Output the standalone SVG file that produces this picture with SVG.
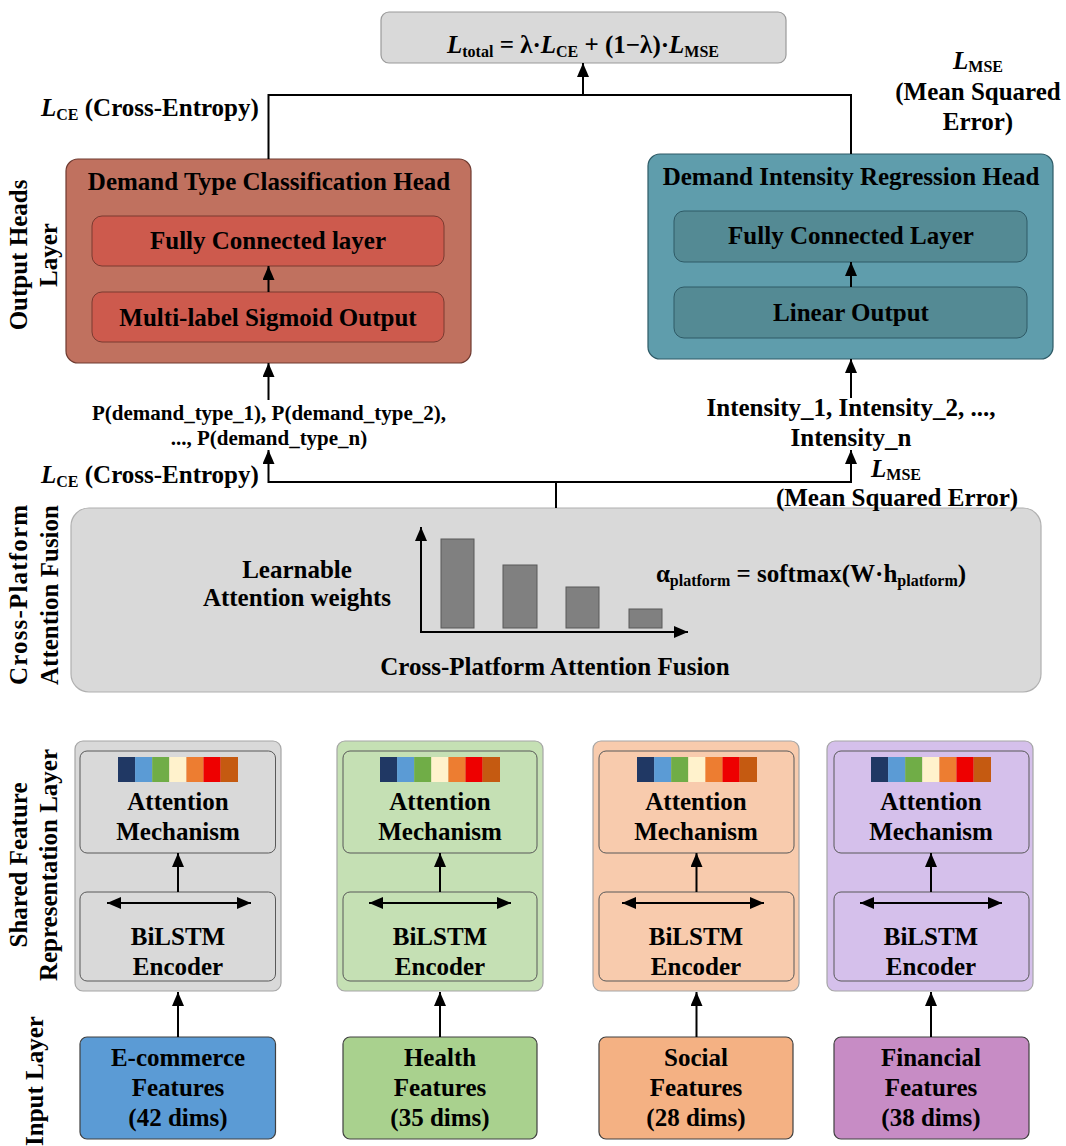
<svg xmlns="http://www.w3.org/2000/svg" width="1066" height="1146" viewBox="0 0 1066 1146">
<style>
text{font-family:"Liberation Serif","Times New Roman",serif;font-weight:bold;fill:#000;}
.t24{font-size:25px;}
.t21{font-size:21px;}
.mid{text-anchor:middle;}
.ln{stroke:#000;stroke-width:2;fill:none;}
.sub{font-size:16px;}
.it{font-style:italic;}
.panel{stroke:#a6a6a6;stroke-width:1.2;}
.inner{stroke:#595959;stroke-width:1;}
.inbox{stroke:#404040;stroke-width:1.2;}
.bar{fill:#808080;stroke:#595959;stroke-width:1;}
</style>
<defs>
<marker id="ah" markerUnits="userSpaceOnUse" markerWidth="14" markerHeight="12" refX="14" refY="6" orient="auto">
<path d="M0,0 L14,6 L0,12 z" fill="#000"/>
</marker>
<marker id="ahs" markerUnits="userSpaceOnUse" markerWidth="14" markerHeight="12" refX="0" refY="6" orient="auto">
<path d="M14,0 L0,6 L14,12 z" fill="#000"/>
</marker>
</defs>
<rect width="1066" height="1146" fill="#fff"/>

<!-- Layer labels -->
<g id="layer-labels" class="t24">
<text class="t24 mid" transform="translate(27,255) rotate(-90)">Output Heads</text>
<text class="t24 mid" transform="translate(57,255) rotate(-90)">Layer</text>
<text class="t24 mid" transform="translate(27,595) rotate(-90)" textLength="180" lengthAdjust="spacing">Cross-Platform</text>
<text class="t24 mid" transform="translate(58,595) rotate(-90)" textLength="180" lengthAdjust="spacing">Attention Fusion</text>
<text class="t24 mid" transform="translate(27,865) rotate(-90)">Shared Feature</text>
<text class="t24 mid" transform="translate(57,865) rotate(-90)">Representation Layer</text>
<text class="t24 mid" transform="translate(43,1081) rotate(-90)">Input Layer</text>
</g>

<!-- Total loss -->
<g id="total-loss">
<rect x="381" y="12" width="405" height="51" rx="8" fill="#d9d9d9" stroke="#9a9a9a" stroke-width="1.2"/>
<text class="t24 mid" x="583" y="53"><tspan class="it">L</tspan><tspan class="sub" dy="4">total</tspan><tspan dy="-4"> = λ·</tspan><tspan class="it">L</tspan><tspan class="sub" dy="4">CE</tspan><tspan dy="-4"> + (1−λ)·</tspan><tspan class="it">L</tspan><tspan class="sub" dy="4">MSE</tspan></text>
</g>

<!-- Classification head -->
<g id="classification-head">
<rect x="66" y="159" width="405" height="204" rx="12" fill="#c0715f" stroke="#6e3a30" stroke-width="1.2"/>
<text class="t24 mid" x="269" y="190">Demand Type Classification Head</text>
<rect x="92" y="216" width="352" height="50" rx="10" fill="#cd5a4d" stroke="#7a3a30" stroke-width="1"/>
<text class="t24 mid" x="268" y="249">Fully Connected layer</text>
<rect x="92" y="292" width="352" height="50" rx="10" fill="#cd5a4d" stroke="#7a3a30" stroke-width="1"/>
<text class="t24 mid" x="268" y="326">Multi-label Sigmoid Output</text>
</g>

<!-- Regression head -->
<g id="regression-head">
<rect x="648" y="154" width="405" height="205" rx="12" fill="#5f9dac" stroke="#2e5a66" stroke-width="1.2"/>
<text class="t24 mid" x="851" y="185">Demand Intensity Regression Head</text>
<rect x="674" y="211" width="353" height="51" rx="10" fill="#548a94" stroke="#2e5a66" stroke-width="1"/>
<text class="t24 mid" x="851" y="244">Fully Connected Layer</text>
<rect x="674" y="287" width="353" height="51" rx="10" fill="#548a94" stroke="#2e5a66" stroke-width="1"/>
<text class="t24 mid" x="851" y="321">Linear Output</text>
</g>

<!-- Fusion -->
<g id="fusion">
<rect x="71" y="508" width="970" height="184" rx="18" fill="#d9d9d9" stroke="#b0b0b0" stroke-width="1.2"/>
<text class="t24 mid" x="297" y="578">Learnable</text>
<text class="t24 mid" x="297" y="606">Attention weights</text>
<rect class="bar" x="441" y="539" width="33" height="89"/>
<rect class="bar" x="503" y="565" width="34" height="63"/>
<rect class="bar" x="566" y="587" width="33" height="41"/>
<rect class="bar" x="629" y="609" width="33" height="19"/>
<line class="ln" x1="421" y1="632" x2="421" y2="527" marker-end="url(#ah)"/>
<line class="ln" x1="420" y1="632" x2="688" y2="632" marker-end="url(#ah)"/>
<text class="t24 mid" x="811" y="582">α<tspan class="sub" dy="4">platform</tspan><tspan dy="-4"> = softmax(W·h</tspan><tspan class="sub" dy="4">platform</tspan><tspan dy="-4">)</tspan></text>
<text class="t24 mid" x="555" y="675">Cross-Platform Attention Fusion</text>
</g>

<!-- Columns -->
<g id="col-ecommerce">
<rect class="panel" x="75" y="741" width="206" height="250" rx="8" fill="#d9d9d9"/>
<rect class="inner" x="80" y="751" width="195.5" height="102" rx="7" fill="#d9d9d9"/>
<rect class="inner" x="80" y="892" width="195.5" height="89" rx="7" fill="#d9d9d9"/>
<rect class="inbox" x="80" y="1037" width="195.5" height="102" rx="7" fill="#5b9bd5"/>
<text class="t24 mid" x="178" y="810">Attention</text>
<text class="t24 mid" x="178" y="840">Mechanism</text>
<text class="t24 mid" x="178" y="945">BiLSTM</text>
<text class="t24 mid" x="178" y="975">Encoder</text>
<text class="t24 mid" x="178" y="1066">E-commerce</text>
<text class="t24 mid" x="178" y="1096">Features</text>
<text class="t24 mid" x="178" y="1126">(42 dims)</text>
</g>
<g id="col-health">
<rect class="panel" x="337" y="741" width="206" height="250" rx="8" fill="#c5e0b4"/>
<rect class="inner" x="343" y="751" width="194" height="102" rx="7" fill="#c5e0b4"/>
<rect class="inner" x="343" y="892" width="194" height="89" rx="7" fill="#c5e0b4"/>
<rect class="inbox" x="343" y="1037" width="194" height="102" rx="7" fill="#a9d18e"/>
<text class="t24 mid" x="440" y="810">Attention</text>
<text class="t24 mid" x="440" y="840">Mechanism</text>
<text class="t24 mid" x="440" y="945">BiLSTM</text>
<text class="t24 mid" x="440" y="975">Encoder</text>
<text class="t24 mid" x="440" y="1066">Health</text>
<text class="t24 mid" x="440" y="1096">Features</text>
<text class="t24 mid" x="440" y="1126">(35 dims)</text>
</g>
<g id="col-social">
<rect class="panel" x="593" y="741" width="206" height="250" rx="8" fill="#f8cbad"/>
<rect class="inner" x="599" y="751" width="195" height="102" rx="7" fill="#f8cbad"/>
<rect class="inner" x="599" y="892" width="195" height="89" rx="7" fill="#f8cbad"/>
<rect class="inbox" x="599" y="1037" width="194" height="102" rx="7" fill="#f4b183"/>
<text class="t24 mid" x="696" y="810">Attention</text>
<text class="t24 mid" x="696" y="840">Mechanism</text>
<text class="t24 mid" x="696" y="945">BiLSTM</text>
<text class="t24 mid" x="696" y="975">Encoder</text>
<text class="t24 mid" x="696" y="1066">Social</text>
<text class="t24 mid" x="696" y="1096">Features</text>
<text class="t24 mid" x="696" y="1126">(28 dims)</text>
</g>
<g id="col-financial">
<rect class="panel" x="827" y="741" width="206" height="250" rx="8" fill="#d5c0eb"/>
<rect class="inner" x="834" y="751" width="195" height="102" rx="7" fill="#d5c0eb"/>
<rect class="inner" x="834" y="892" width="195" height="89" rx="7" fill="#d5c0eb"/>
<rect class="inbox" x="834" y="1037" width="195" height="102" rx="7" fill="#c78cc5"/>
<text class="t24 mid" x="931" y="810">Attention</text>
<text class="t24 mid" x="931" y="840">Mechanism</text>
<text class="t24 mid" x="931" y="945">BiLSTM</text>
<text class="t24 mid" x="931" y="975">Encoder</text>
<text class="t24 mid" x="931" y="1066">Financial</text>
<text class="t24 mid" x="931" y="1096">Features</text>
<text class="t24 mid" x="931" y="1126">(38 dims)</text>
</g>

<!-- color bars -->
<g id="color-bars">
<g transform="translate(118,757)">
<rect x="0" width="17.2" height="25" fill="#203864"/><rect x="17.1" width="17.2" height="25" fill="#5b9bd5"/><rect x="34.2" width="17.2" height="25" fill="#70ad47"/><rect x="51.3" width="17.2" height="25" fill="#fff2cc"/><rect x="68.4" width="17.2" height="25" fill="#ed7d31"/><rect x="85.5" width="17.2" height="25" fill="#ee0000"/><rect x="102.6" width="17.4" height="25" fill="#c55a11"/>
</g>
<g transform="translate(380,757)">
<rect x="0" width="17.2" height="25" fill="#203864"/><rect x="17.1" width="17.2" height="25" fill="#5b9bd5"/><rect x="34.2" width="17.2" height="25" fill="#70ad47"/><rect x="51.3" width="17.2" height="25" fill="#fff2cc"/><rect x="68.4" width="17.2" height="25" fill="#ed7d31"/><rect x="85.5" width="17.2" height="25" fill="#ee0000"/><rect x="102.6" width="17.4" height="25" fill="#c55a11"/>
</g>
<g transform="translate(637,757)">
<rect x="0" width="17.2" height="25" fill="#203864"/><rect x="17.1" width="17.2" height="25" fill="#5b9bd5"/><rect x="34.2" width="17.2" height="25" fill="#70ad47"/><rect x="51.3" width="17.2" height="25" fill="#fff2cc"/><rect x="68.4" width="17.2" height="25" fill="#ed7d31"/><rect x="85.5" width="17.2" height="25" fill="#ee0000"/><rect x="102.6" width="17.4" height="25" fill="#c55a11"/>
</g>
<g transform="translate(871,757)">
<rect x="0" width="17.2" height="25" fill="#203864"/><rect x="17.1" width="17.2" height="25" fill="#5b9bd5"/><rect x="34.2" width="17.2" height="25" fill="#70ad47"/><rect x="51.3" width="17.2" height="25" fill="#fff2cc"/><rect x="68.4" width="17.2" height="25" fill="#ed7d31"/><rect x="85.5" width="17.2" height="25" fill="#ee0000"/><rect x="102.6" width="17.4" height="25" fill="#c55a11"/>
</g>
</g>

<!-- labels on connectors -->
<g id="connector-labels">
<text class="t24" x="41" y="116"><tspan class="it">L</tspan><tspan class="sub" dy="4">CE</tspan><tspan dy="-4"> (Cross-Entropy)</tspan></text>
<text class="t24 mid" x="978" y="69"><tspan class="it">L</tspan><tspan class="sub" dy="3">MSE</tspan></text>
<text class="t24 mid" x="978" y="100">(Mean Squared</text>
<text class="t24 mid" x="978" y="130">Error)</text>
<text class="t21 mid" x="269" y="420">P(demand_type_1), P(demand_type_2),</text>
<text class="t21 mid" x="269" y="445">..., P(demand_type_n)</text>
<text class="t24 mid" x="851" y="416">Intensity_1, Intensity_2, ...,</text>
<text class="t24 mid" x="851" y="446">Intensity_n</text>
<text class="t24" x="41" y="483"><tspan class="it">L</tspan><tspan class="sub" dy="4">CE</tspan><tspan dy="-4"> (Cross-Entropy)</tspan></text>
<text class="t24 mid" x="896" y="477"><tspan class="it">L</tspan><tspan class="sub" dy="3">MSE</tspan></text>
<text class="t24 mid" x="897" y="506">(Mean Squared Error)</text>
</g>

<!-- connectors -->
<g id="connectors">
<polyline class="ln" points="268.5,159 268.5,95 851,95 851,154"/>
<line class="ln" x1="583" y1="95" x2="583" y2="63" marker-end="url(#ah)"/>
<line class="ln" x1="268.5" y1="292" x2="268.5" y2="266" marker-end="url(#ah)"/>
<line class="ln" x1="851" y1="287" x2="851" y2="262" marker-end="url(#ah)"/>
<line class="ln" x1="268.5" y1="400" x2="268.5" y2="363" marker-end="url(#ah)"/>
<line class="ln" x1="851" y1="398" x2="851" y2="359" marker-end="url(#ah)"/>
<polyline class="ln" points="268.5,450 268.5,482 851,482 851,450" marker-start="url(#ahs)" marker-end="url(#ah)"/>
<line class="ln" x1="556" y1="482" x2="556" y2="508"/>
<line class="ln" x1="178" y1="892" x2="178" y2="853" marker-end="url(#ah)"/>
<line class="ln" x1="440" y1="892" x2="440" y2="853" marker-end="url(#ah)"/>
<line class="ln" x1="696.5" y1="892" x2="696.5" y2="853" marker-end="url(#ah)"/>
<line class="ln" x1="931" y1="892" x2="931" y2="853" marker-end="url(#ah)"/>
<line class="ln" x1="107" y1="903" x2="251" y2="903" marker-start="url(#ahs)" marker-end="url(#ah)"/>
<line class="ln" x1="369" y1="903" x2="511" y2="903" marker-start="url(#ahs)" marker-end="url(#ah)"/>
<line class="ln" x1="622" y1="903" x2="764" y2="903" marker-start="url(#ahs)" marker-end="url(#ah)"/>
<line class="ln" x1="860" y1="903" x2="1002" y2="903" marker-start="url(#ahs)" marker-end="url(#ah)"/>
<line class="ln" x1="178" y1="1037" x2="178" y2="992" marker-end="url(#ah)"/>
<line class="ln" x1="440" y1="1037" x2="440" y2="992" marker-end="url(#ah)"/>
<line class="ln" x1="696.5" y1="1037" x2="696.5" y2="992" marker-end="url(#ah)"/>
<line class="ln" x1="931" y1="1037" x2="931" y2="992" marker-end="url(#ah)"/>
</g>
</svg>
